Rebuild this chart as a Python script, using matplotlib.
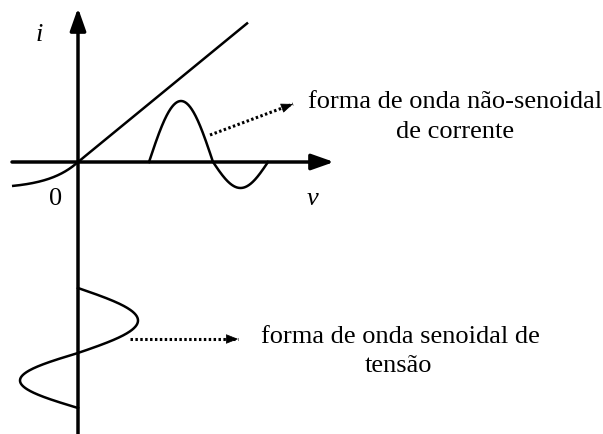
"""
Nonlinear i-v characteristic: sinusoidal voltage in, non-sinusoidal current out.
Drawn on a pixel-unit canvas (603x434, y grows downward).
"""
import numpy as np
import matplotlib
matplotlib.use("Agg")
import matplotlib.pyplot as plt

W, H = 603, 434
ORIGIN = (78, 162)
V_AXIS_X = [12, 334]          # horizontal (v) axis, left end -> arrow tip
I_AXIS_Y = [434, 8]           # vertical (i) axis, bottom -> arrow tip

# i-v characteristic: exponential knee for v<0, ~linear for v>0
CHAR_V = [-66, 170]
CHAR_SAT = 27.0
CHAR_KNEE = 30.0
CHAR_SLOPE = 0.82

# current waveform laid along the v axis (start, zero crossing, end)
CUR_X = [149, 213, 268]
CUR_AMP = [61, 26]            # positive lobe, negative lobe

# voltage waveform laid along the i axis (start, zero crossing, end)
VOLT_Y = [288, 353, 408]
VOLT_AMP = [60, 58]

ARROW_CUR = [(210, 135), (293, 104)]
ARROW_VOLT = [(130, 339), (238, 339)]

# text lines: (text, x centre, baseline y)
TXT_CUR = [("forma de onda não-senoidal", 455, 108), ("de corrente", 455, 138)]
TXT_VOLT = [("forma de onda senoidal de", 400, 343), ("tensão", 398, 372)]

plt.rcParams["font.family"] = ["Liberation Serif", "DejaVu Serif"]
FS = 19
LW = 1.8


def char(v):
    v = np.asarray(v, dtype=float)
    return np.where(v < 0, -CHAR_SAT * (1 - np.exp(v / CHAR_KNEE)), CHAR_SLOPE * v)


fig = plt.figure(figsize=(W / 100, H / 100), dpi=100)
ax = fig.add_axes([0, 0, 1, 1])
ax.set_xlim(0, W)
ax.set_ylim(H, 0)
ax.axis("off")

ox, oy = ORIGIN
axis_kw = dict(arrowstyle="-|>,head_length=0.68,head_width=0.24", lw=2.5,
               color="black", mutation_scale=20, shrinkA=0, shrinkB=0)
ax.annotate("", xy=(V_AXIS_X[1], oy), xytext=(V_AXIS_X[0], oy), arrowprops=axis_kw)
ax.annotate("", xy=(ox, I_AXIS_Y[1]), xytext=(ox, I_AXIS_Y[0]), arrowprops=axis_kw)

# characteristic
v = np.linspace(CHAR_V[0], CHAR_V[1], 400)
ax.plot(ox + v, oy - char(v), color="black", lw=LW, solid_capstyle="butt")

t1 = np.linspace(0, np.pi, 200)
t2 = np.linspace(np.pi, 2 * np.pi, 200)
tt = np.concatenate([t1, t2])

# current waveform: big positive lobe, small negative lobe
xs = np.concatenate([CUR_X[0] + t1 / np.pi * (CUR_X[1] - CUR_X[0]),
                     CUR_X[1] + (t2 - np.pi) / np.pi * (CUR_X[2] - CUR_X[1])])
camp = np.concatenate([np.full_like(t1, CUR_AMP[0]), np.full_like(t2, CUR_AMP[1])])
ax.plot(xs, oy - camp * np.sin(tt), color="black", lw=LW)

# voltage waveform along the i axis
ys = np.concatenate([VOLT_Y[0] + t1 / np.pi * (VOLT_Y[1] - VOLT_Y[0]),
                     VOLT_Y[1] + (t2 - np.pi) / np.pi * (VOLT_Y[2] - VOLT_Y[1])])
vamp = np.concatenate([np.full_like(t1, VOLT_AMP[0]), np.full_like(t2, VOLT_AMP[1])])
ax.plot(ox + vamp * np.sin(tt), ys, color="black", lw=LW)

# dotted pointers
for (x0, y0), (x1, y1) in (ARROW_CUR, ARROW_VOLT):
    ax.plot([x0, x1], [y0, y1], color="black", lw=2.2, ls=(0, (0.8, 0.8)))
    ax.annotate("", xy=(x1, y1), xytext=(x1 - (x1 - x0) * 0.12, y1 - (y1 - y0) * 0.12),
                arrowprops=dict(arrowstyle="-|>,head_length=0.55,head_width=0.22",
                                color="black", lw=0.5, mutation_scale=14,
                                shrinkA=0, shrinkB=0))

ax.text(39, 41, "i", fontsize=FS, style="italic", ha="center", va="baseline")
ax.text(313, 205, "v", fontsize=FS, style="italic", ha="center", va="baseline")
ax.text(56, 205, "0", fontsize=FS, ha="center", va="baseline")
for s, x, y in TXT_CUR + TXT_VOLT:
    ax.text(x, y, s, fontsize=FS, ha="center", va="baseline")

fig.savefig("out.png", dpi=100)
